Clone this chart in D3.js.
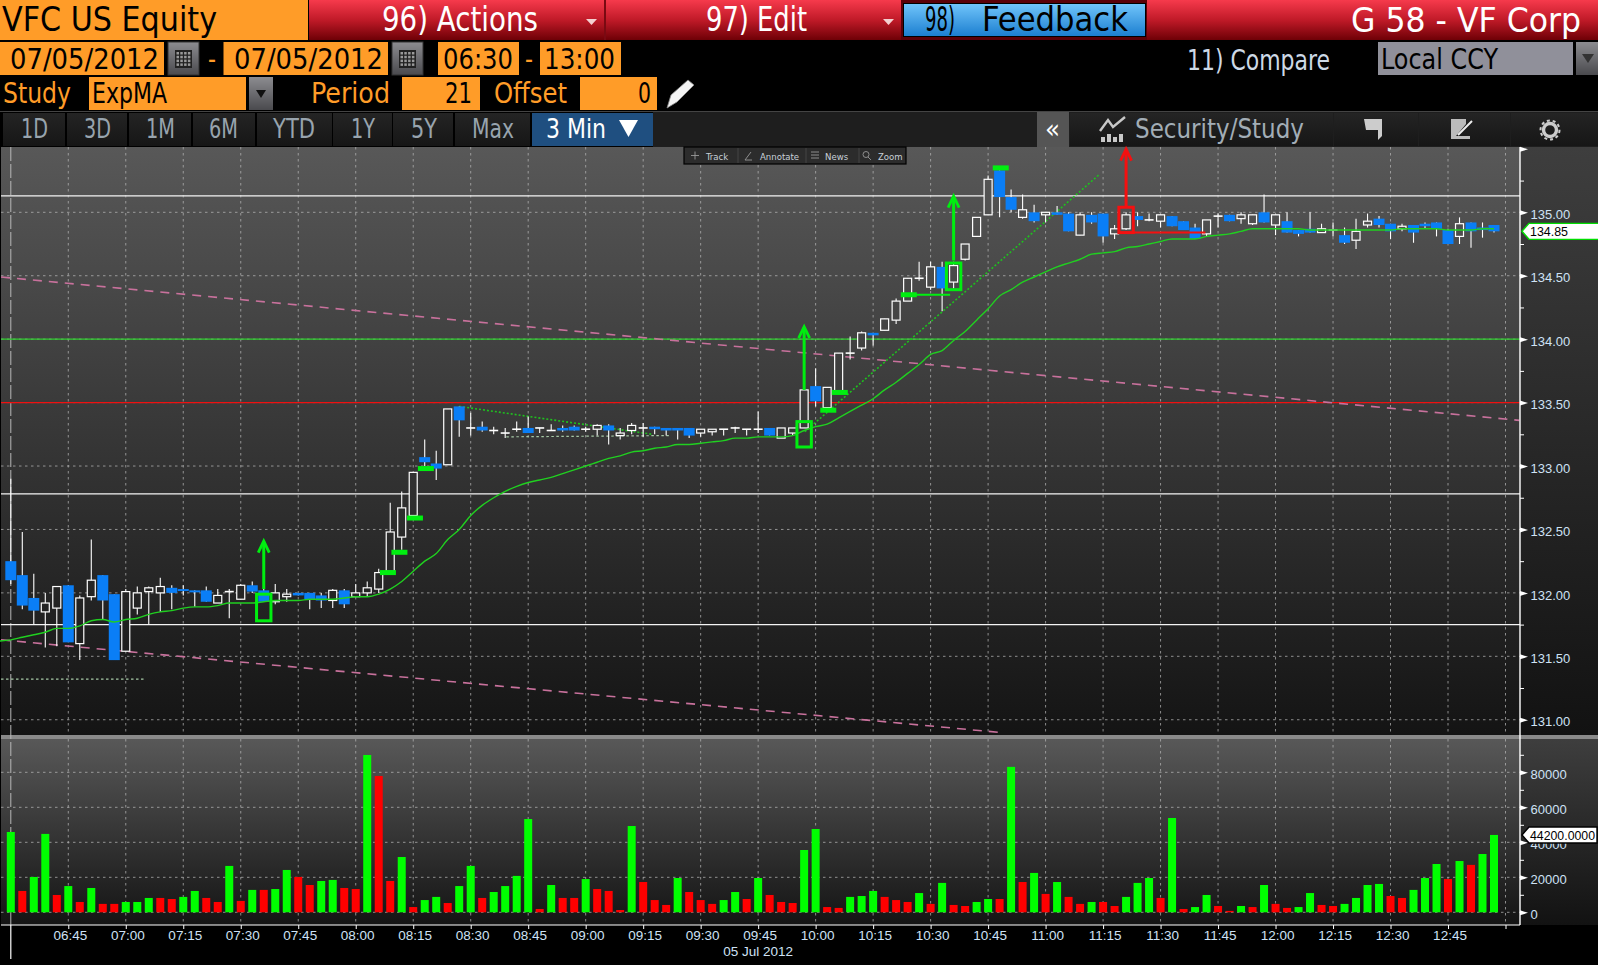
<!DOCTYPE html>
<html>
<head>
<meta charset="utf-8">
<title>VFC US Equity</title>
<script src="https://cdn.jsdelivr.net/npm/d3@7"></script>
<style>
	html, body { margin: 0; padding: 0; background: #000; overflow: hidden; }
	svg { display: block; }
	text { font-family: "DejaVu Sans Condensed", "DejaVu Sans", sans-serif; }
	.tick-label text, .small { font-family: "Liberation Sans", sans-serif; }
</style>
</head>
<body>
<div class="chart"></div>
<script>
// 3 minute bars, 06:30 to 12:57
var candleOpen = [
	132.25,132.14,131.96,131.85,131.88,132.06,131.60,131.97,132.14,131.99,
	131.54,131.88,132.01,132.00,132.04,132.03,132.02,132.02,131.92,132.01,
	131.95,132.06,132.02,131.93,131.97,132.00,132.00,131.98,131.94,132.02,
	131.97,132.00,132.03,132.17,132.44,132.61,133.07,133.02,133.01,133.47,
	133.30,133.31,133.28,133.26,133.29,133.30,133.30,133.28,133.30,133.31,
	133.29,133.29,133.32,133.24,133.28,133.30,133.31,133.30,133.30,133.30,
	133.26,133.27,133.29,133.30,133.29,133.29,133.30,133.22,133.26,133.30,
	133.63,133.46,133.59,133.89,133.93,134.05,134.07,134.15,134.30,134.48,
	134.41,134.57,134.45,134.63,134.81,134.98,135.33,135.12,134.96,135.00,
	134.98,135.00,134.99,134.82,134.98,134.99,134.83,134.87,134.97,134.94,
	134.93,134.97,134.93,134.88,134.83,134.97,134.98,134.95,134.91,135.00,
	134.90,134.93,134.86,134.87,134.84,134.86,134.82,134.78,134.90,134.95,
	134.91,134.87,134.90,134.91,134.92,134.86,134.81,134.92,134.88,134.90]

var candleHigh = [
	132.90,132.48,132.15,132.00,132.05,132.06,131.98,132.42,132.14,131.99,
	132.03,132.05,132.05,132.12,132.06,132.06,132.02,132.05,132.03,132.03,
	132.07,132.09,132.03,132.07,132.03,132.00,132.00,132.00,132.03,132.03,
	132.07,132.09,132.19,132.71,132.80,132.95,133.21,133.12,133.45,133.47,
	133.42,133.35,133.31,133.30,133.35,133.39,133.30,133.33,133.32,133.32,
	133.31,133.33,133.33,133.30,133.34,133.34,133.31,133.30,133.30,133.30,
	133.29,133.29,133.29,133.31,133.29,133.43,133.30,133.30,133.30,133.60,
	133.77,133.62,133.89,134.02,134.06,134.05,134.16,134.32,134.48,134.61,
	134.61,134.61,134.61,134.75,134.96,135.29,135.33,135.18,135.14,135.06,
	135.00,135.05,135.00,135.00,135.00,134.99,134.90,135.00,135.00,134.99,
	134.98,134.97,134.93,134.91,134.94,134.99,134.98,135.00,134.98,135.14,
	134.98,135.00,134.86,135.00,134.91,134.92,134.88,134.95,134.99,134.97,
	134.91,134.91,134.90,134.92,134.92,134.87,134.96,134.92,134.92,134.90]

var candleLow = [
	132.07,131.87,131.75,131.57,131.58,131.61,131.47,131.94,131.79,131.47,
	131.54,131.83,131.75,131.85,131.87,131.98,131.89,131.93,131.92,131.80,
	131.95,132.00,131.93,131.91,131.93,131.98,131.87,131.88,131.88,131.88,
	131.97,131.97,132.00,132.16,132.34,132.61,133.00,132.89,133.01,133.23,
	133.24,133.27,133.25,133.22,133.27,133.26,133.26,133.28,133.27,133.28,
	133.27,133.24,133.17,133.21,133.25,133.23,133.25,133.24,133.21,133.22,
	133.23,133.24,133.24,133.26,133.24,133.26,133.24,133.22,133.24,133.30,
	133.47,133.46,133.59,133.84,133.91,133.95,134.07,134.12,134.30,134.46,
	134.39,134.22,134.40,134.62,134.81,134.98,134.96,135.00,134.95,134.92,
	134.92,134.98,134.85,134.82,134.91,134.76,134.79,134.86,134.89,134.93,
	134.88,134.89,134.86,134.79,134.81,134.88,134.93,134.91,134.90,134.92,
	134.82,134.84,134.81,134.84,134.84,134.81,134.75,134.71,134.88,134.88,
	134.79,134.85,134.76,134.87,134.81,134.75,134.75,134.72,134.80,134.84]

var candleClose = [
	132.10,131.90,131.86,131.92,132.05,131.61,131.96,132.10,131.94,131.47,
	132.01,132.00,132.04,132.05,132.00,132.02,132.01,131.93,131.98,132.01,
	132.06,132.01,131.93,132.00,131.99,131.98,131.95,131.94,132.02,131.91,
	132.00,132.04,132.16,132.48,132.67,132.95,133.03,132.98,133.45,133.36,
	133.30,133.28,133.28,133.26,133.29,133.26,133.30,133.28,133.28,133.28,
	133.29,133.32,133.28,133.26,133.32,133.30,133.29,133.28,133.28,133.24,
	133.29,133.29,133.29,133.30,133.29,133.29,133.24,133.30,133.30,133.60,
	133.51,133.62,133.89,133.89,134.05,134.03,134.16,134.30,134.48,134.48,
	134.57,134.40,134.58,134.75,134.96,135.26,135.12,135.02,135.02,134.93,
	135.00,134.98,134.85,134.98,134.92,134.81,134.87,134.98,134.94,134.94,
	134.98,134.89,134.86,134.79,134.94,134.97,134.93,134.98,134.98,134.92,
	134.98,134.84,134.83,134.84,134.87,134.86,134.76,134.85,134.93,134.90,
	134.85,134.89,134.84,134.89,134.87,134.75,134.91,134.85,134.86,134.85]

// ExpMA 21, starts one bar left of the first candle
var emaValues = [
	131.62,
	131.63,131.65,131.67,131.69,131.72,131.72,131.74,131.78,131.79,131.77,
	131.79,131.80,131.83,131.85,131.86,131.88,131.89,131.89,131.90,131.92,
	131.92,131.92,131.93,131.94,131.94,131.94,131.95,131.95,131.95,131.96,
	131.97,131.97,131.99,132.03,132.09,132.17,132.25,132.31,132.42,132.50,
	132.61,132.69,132.75,132.80,132.84,132.87,132.89,132.91,132.94,132.97,
	133.00,133.03,133.06,133.08,133.11,133.12,133.14,133.15,133.17,133.17,
	133.18,133.19,133.20,133.22,133.22,133.23,133.23,133.23,133.24,133.28,
	133.31,133.33,133.38,133.43,133.48,133.53,133.60,133.66,133.73,133.80,
	133.88,133.91,133.99,134.06,134.15,134.24,134.34,134.39,134.45,134.49,
	134.53,134.57,134.60,134.63,134.67,134.68,134.69,134.72,134.73,134.75,
	134.77,134.79,134.79,134.79,134.81,134.82,134.83,134.85,134.87,134.87,
	134.87,134.87,134.87,134.86,134.86,134.86,134.86,134.86,134.86,134.86,
	134.86,134.87,134.87,134.87,134.87,134.86,134.86,134.86,134.87,134.87]

var volumeValues = [
	45900,12200,20200,44800,9900,15000,5900,13900,4800,4800,
	5900,5900,8200,8200,7600,8800,12200,8200,5900,26500,
	6500,12800,12800,13300,24200,20200,15600,17900,18500,13900,
	13300,89900,77900,17900,31600,3000,7000,8800,5300,15000,
	26500,8200,11600,15000,20800,53300,1900,15600,8200,8200,
	19000,13300,12200,1300,49300,17300,7000,4200,19600,11600,
	7000,4800,7000,11600,7600,19600,9900,5900,5300,35600,
	47600,3000,2500,8800,9300,12200,8800,7000,5900,11000,
	4800,16800,4200,3600,5900,7600,7600,83100,17300,22500,
	10500,17300,8800,4800,5900,5900,3600,8800,16800,19600,
	8200,53900,1900,3000,9900,3600,800,3600,3000,15600,
	4800,2500,3000,11000,4200,3600,4800,8200,15600,16200,
	9300,8200,12800,19600,27600,19000,29300,27100,33300,44200]

// 1 = up volume, 0 = down volume
var volumeUp = [
	1,0,1,1,0,1,0,1,0,0, 1,1,1,0,0,1,1,0,0,1,
	0,1,0,1,1,0,0,1,1,0, 0,1,0,0,1,0,1,1,0,1,
	1,0,1,1,1,1,0,1,0,0, 1,0,0,0,1,0,0,0,1,0,
	0,0,1,1,0,1,0,0,0,1, 1,0,0,1,1,1,0,0,0,1,
	0,1,0,0,1,1,0,1,0,1, 0,1,0,0,1,0,0,1,1,1,
	0,1,0,1,1,0,0,1,0,1, 0,0,1,1,0,0,1,1,1,1,
	0,0,1,1,1,0,1,0,1,1]

var priceTicks = d3.range(131, 135.75, 0.25)
var volumeTicks = d3.range(0, 100000, 10000)
var levelsWhite = [135.13, 132.78, 131.75]
var levelGreen = 134.00
var levelRed = 133.50
var lastPrice = 134.85
var lastVolume = 44200

// [bar, price, bar, price]
var dashedTrends = [[-0.85, 134.49, 131.2, 133.36], [-0.85, 131.63, 86.02, 130.90]]
var dottedTrends = [[39, 133.47, 55.8, 133.25], [69.06, 133.27, 94.7, 135.30]]
var paleTrends = [[43.1, 133.23, 57.4, 133.24], [-0.85, 131.32, 11.67, 131.32]]

var signalBars = [32.8, 33.8, 35.15, 36.1, 71.1, 72.1, 78.1, 86.1]
var signalPrices = [132.16, 132.32, 132.59, 132.98, 133.44, 133.58, 134.35, 135.35]

// [bar, bottom price, top price]
var buyBoxes = [[22, 131.78, 131.99], [69, 133.15, 133.35], [82, 134.39, 134.60]]
var sellBoxes = [[97, 134.84, 135.04]]
// [bar, from price, to price]
var buyArrows = [[22, 132.03, 132.42], [69, 133.60, 134.11], [82, 134.62, 135.14]]
var sellArrows = [[97, 135.04, 135.51]]

var width = 1598, height = 965
var plotLeft = 1, plotRight = 1520
var priceTop = 147, priceBottom = 735, volumeTop = 739, volumeBottom = 925

var svg = d3.select(".chart").append("svg")
	.attr("width", width)
	.attr("height", height)

var defs = svg.append("defs")

function gradient(id, stops) {
	var g = defs.append("linearGradient").attr("id", id)
		.attr("x1", 0).attr("y1", 0).attr("x2", 0).attr("y2", 1)
	stops.forEach(function(s, i) {
		g.append("stop").attr("offset", i / (stops.length - 1)).attr("stop-color", s)
	})
}
gradient("panel", ["#585858", "#141414"])
gradient("strip", ["#3e3e3e", "#121212"])
gradient("redbar", ["#f63a4c", "#c01a28", "#6e0006"])
gradient("bluebtn", ["#70c4fa", "#1c7fd0"])
gradient("graybtn", ["#8c8c90", "#4a4a4e"])
gradient("tab", ["#242424", "#161616"])

var dayStart = new Date(2012, 6, 5, 6, 30)
function barTime(i) { return new Date(dayStart.getTime() + i * 180000) }

var x = d3.scaleTime().domain([dayStart, new Date(2012, 6, 5, 13, 0)]).range([10.8, 1505.5])
var y = d3.scaleLinear().domain([131, 135]).range([719.74, 212.3])
var v = d3.scaleLinear().domain([0, 80000]).range([912.3, 772.3])

function barX(i) { return x(barTime(i)) }

function drawHeader() {
	var g = svg.append("g")

	function box(x0, y0, x1, y1, fill) {
		return g.append("rect").attr("x", x0).attr("y", y0)
			.attr("width", x1 - x0).attr("height", y1 - y0).attr("fill", fill)
	}
	function label(str, x0, x1, base, size, fill) {
		return g.append("text").text(str).attr("x", x0).attr("y", base)
			.attr("font-size", size).attr("fill", fill)
			.attr("textLength", x1 - x0).attr("lengthAdjust", "spacingAndGlyphs")
	}
	function triangle(pts, fill) {
		g.append("polygon").attr("points", pts).attr("fill", fill)
	}
	function calendar(x0) {
		box(x0, 42, x0 + 31, 75, "url(#graybtn)").attr("stroke", "#333")
		box(x0 + 7, 50, x0 + 24, 68, "#222")
		d3.range(4).forEach(function(r) {
			d3.range(4).forEach(function(c) {
				box(x0 + 8.5 + c * 3.8, 52 + r * 3.8, x0 + 11 + c * 3.8, 54.5 + r * 3.8, "#9a9a9a")
			})
		})
	}

	var orange = "#ff9c28"

	box(0, 0, 308, 40, orange)
	box(309, 0, 1598, 40, "url(#redbar)")
	box(604, 0, 606, 40, "#7a0a12")
	box(901, 0, 1147, 40, "#5a0008")
	box(903, 3, 1146, 37, "#000")
	box(904, 4, 1145, 36, "url(#bluebtn)")
	label("VFC US Equity", 2, 217, 31, 34, "#000")
	label("96) Actions", 382, 538, 31, 34, "#fff")
	label("97) Edit", 706, 807, 31, 34, "#fff")
	label("98)", 925, 955, 31, 34, "#000")
	label("Feedback", 982, 1128, 31, 34, "#000")
	label("G 58 - VF Corp", 1351, 1581, 32, 34, "#fff")
	triangle("586,19 597,19 591.5,25", "#f4d0d0")
	triangle("883,19 894,19 888.5,25", "#f4d0d0")

	box(0, 42, 164, 75, orange)
	label("07/05/2012", 10, 159, 69, 29, "#000")
	calendar(168)
	label("-", 208, 216, 69, 29, orange)
	box(223.5, 42, 388, 75, orange)
	label("07/05/2012", 234, 383, 69, 29, "#000")
	calendar(392)
	box(438, 42, 519, 75, orange)
	label("06:30", 443, 513, 69, 29, "#000")
	label("-", 525, 533, 69, 29, orange)
	box(540, 42, 621, 75, orange)
	label("13:00", 544, 615, 69, 29, "#000")
	label("11)  Compare", 1187, 1330, 70, 29, "#cdd9e6")
	box(1378, 42, 1573, 75, "#90909a")
	label("Local CCY", 1381, 1498, 69, 29, "#000")
	box(1576, 42, 1598, 75, "url(#graybtn)")
	triangle("1582,54 1594,54 1588,63", "#333")

	label("Study", 3, 71, 103, 29, orange)
	box(89, 77, 246, 110, orange)
	label("ExpMA", 92, 167, 103, 29, "#000")
	box(249, 77, 273, 110, "url(#graybtn)")
	triangle("256,90 266,90 261,98", "#111")
	label("Period", 311, 390, 103, 29, orange)
	box(402, 77, 480, 110, orange)
	label("21", 445, 472, 103, 29, "#000")
	label("Offset", 494, 567, 103, 29, orange)
	box(580, 77, 657, 110, orange)
	label("0", 638, 651, 103, 29, "#000")
	// pencil
	g.append("path").attr("d", "M667,108 L671,95 L688,80 L694,85 L677,102 Z")
		.attr("fill", "#f4f4f4").attr("stroke", "#888").attr("stroke-width", 0.8)

	box(0, 111, 1598, 112, "#444")
	box(653, 112, 1598, 147, "#1e1e1e")
	var tabs = [
		["1D", 3, 65, 21, 48], ["3D", 67, 127, 84, 111], ["1M", 129, 191, 146, 175],
		["6M", 193, 255, 209, 238], ["YTD", 257, 332, 273, 315], ["1Y", 333, 392, 351, 375],
		["5Y", 393, 453, 411, 437], ["Max", 455, 530, 472, 514]]
	tabs.forEach(function(t) {
		box(t[1], 113, t[2], 146, "url(#tab)")
		label(t[0], t[3], t[4], 138, 27, "#98a4ae")
	})
	box(532, 113, 653, 146, "#1f4f80")
	label("3 Min", 546, 606, 138, 27, "#fff")
	triangle("619,120 638,120 628.5,137", "#fff")

	box(1037, 112, 1069, 147, "#555")
	label("«", 1045, 1060, 138, 27, "#fff")
	box(1070, 113, 1333, 146, "url(#tab)")
	box(1334, 113, 1418, 146, "url(#tab)")
	box(1419, 113, 1510, 146, "url(#tab)")
	box(1511, 113, 1598, 146, "url(#tab)")
	label("Security/Study", 1135, 1304, 138, 27, "#a2adb6")
	// security study icon
	g.append("path").attr("d", "M1100,131 L1108,120 L1113,127 L1125,117")
		.attr("fill", "none").attr("stroke", "#c8c8c8").attr("stroke-width", 2.4)
	d3.range(4).forEach(function(k) {
		box(1101 + k * 6, 137 - k % 2 * 3, 1105 + k * 6, 142, "#c8c8c8")
	})
	// flag, edit and gear icons
	g.append("path").attr("d", "M1364,119 L1382,119 L1382,136 L1378,140 L1378,130 L1366,130 Z").attr("fill", "#ccc")
	g.append("path").attr("d", "M1451,119 L1466,119 L1466,124 L1456,136 L1470,136 L1470,139 L1451,139 Z").attr("fill", "#bbb")
	g.append("path").attr("d", "M1458,135 L1472,121").attr("stroke", "#eee").attr("stroke-width", 2)
	g.append("circle").attr("cx", 1550).attr("cy", 130).attr("r", 6.5)
		.attr("fill", "none").attr("stroke", "#ccc").attr("stroke-width", 3.4)
	g.append("circle").attr("cx", 1550).attr("cy", 130).attr("r", 9.5)
		.attr("fill", "none").attr("stroke", "#ccc").attr("stroke-width", 2).attr("stroke-dasharray", "3,2.9")
}

function drawPanels() {
	var g = svg.append("g")
	function panel(y0, y1) {
		g.append("rect").attr("x", plotLeft).attr("y", y0)
			.attr("width", plotRight - plotLeft).attr("height", y1 - y0).attr("fill", "url(#panel)")
		g.append("rect").attr("x", plotRight).attr("y", y0)
			.attr("width", width - plotRight).attr("height", y1 - y0).attr("fill", "url(#strip)")
	}
	panel(priceTop, priceBottom)
	panel(volumeTop, volumeBottom)
	g.append("rect").attr("x", plotLeft).attr("y", priceBottom)
		.attr("width", width - plotLeft).attr("height", volumeTop - priceBottom).attr("fill", "#8a8a8a")
}

function drawGrid() {
	var g = svg.append("g")
		.attr("stroke", "#b4b4b4").attr("stroke-opacity", 0.75)
		.attr("stroke-width", 1).attr("stroke-dasharray", "2.5,3.5")

	var times = d3.timeMinute.range(barTime(5), new Date(2012, 6, 5, 13, 1), 15)
	times.forEach(function(t) {
		g.append("line").attr("x1", x(t)).attr("x2", x(t)).attr("y1", priceTop).attr("y2", priceBottom)
		g.append("line").attr("x1", x(t)).attr("x2", x(t)).attr("y1", volumeTop).attr("y2", volumeBottom)
	})
	d3.range(131, 135.5, 0.5).forEach(function(p) {
		g.append("line").attr("x1", plotLeft).attr("x2", plotRight).attr("y1", y(p)).attr("y2", y(p))
	})
	d3.range(0, 100000, 20000).forEach(function(p) {
		g.append("line").attr("x1", plotLeft).attr("x2", plotRight).attr("y1", v(p)).attr("y2", v(p))
	})
	// session start
	svg.append("line").attr("x1", x(dayStart)).attr("x2", x(dayStart)).attr("y1", priceTop).attr("y2", volumeBottom)
		.attr("stroke", "#b8b8b8").attr("stroke-dasharray", "14,3")
}

function trendLine(g, t, stroke, dash, w) {
	g.append("line")
		.attr("x1", barX(t[0])).attr("y1", y(t[1]))
		.attr("x2", barX(t[2])).attr("y2", y(t[3]))
		.attr("stroke", stroke).attr("stroke-dasharray", dash).attr("stroke-width", w)
}

function drawLevels() {
	var g = svg.append("g")
	function level(p, color) {
		g.append("line").attr("x1", plotLeft).attr("x2", plotRight).attr("y1", y(p)).attr("y2", y(p))
			.attr("stroke", color).attr("stroke-width", 1.2)
	}
	levelsWhite.forEach(function(p) { level(p, "#f4f4f4") })
	level(levelGreen, "#2fd02f")
	level(levelRed, "#f01010")
	dashedTrends.forEach(function(t) { trendLine(g, t, "#c8719c", "9,7", 1.6) })
	dottedTrends.forEach(function(t) { trendLine(g, t, "#1fc01f", "2,2", 1.6) })
	paleTrends.forEach(function(t) { trendLine(g, t, "#a6c9a6", "2.5,2.5", 1.2) })
}

function drawCandles() {
	var g = svg.append("g")
	var bars = d3.range(candleOpen.length)

	// body fill follows the panel gradient in page space
	var fill = defs.append("linearGradient").attr("id", "bodyfill")
		.attr("gradientUnits", "userSpaceOnUse")
		.attr("x1", 0).attr("y1", priceTop).attr("x2", 0).attr("y2", priceBottom)
	fill.append("stop").attr("offset", 0).attr("stop-color", "#585858")
	fill.append("stop").attr("offset", 1).attr("stop-color", "#141414")

	g.selectAll(".wick").data(bars).enter().append("line")
		.attr("class", "wick")
		.attr("x1", function(i) { return barX(i) }).attr("x2", function(i) { return barX(i) })
		.attr("y1", function(i) { return y(candleHigh[i]) }).attr("y2", function(i) { return y(candleLow[i]) })
		.attr("stroke", "#fff").attr("stroke-width", 1.1)

	bars.forEach(function(i) {
		var top = y(Math.max(candleOpen[i], candleClose[i]))
		var bot = y(Math.min(candleOpen[i], candleClose[i]))
		if (candleClose[i] < candleOpen[i]) {
			g.append("rect").attr("x", barX(i) - 5.5).attr("y", top)
				.attr("width", 11).attr("height", Math.max(bot - top, 2)).attr("fill", "#0a7ef6")
		}
		else if (candleClose[i] === candleOpen[i]) {
			g.append("line").attr("x1", barX(i) - 4.5).attr("x2", barX(i) + 4.5)
				.attr("y1", top).attr("y2", top).attr("stroke", "#fff").attr("stroke-width", 1.6)
		}
		else {
			g.append("rect").attr("x", barX(i) - 4).attr("y", top)
				.attr("width", 8).attr("height", Math.max(bot - top, 2))
				.attr("fill", "url(#bodyfill)").attr("stroke", "#fff").attr("stroke-width", 1.2)
		}
	})
}

function drawEma() {
	var line = d3.line()
		.x(function(d, i) { return barX(i - 1) })
		.y(function(d) { return y(d) })
		.curve(d3.curveMonotoneX)
	svg.append("path").datum(emaValues)
		.attr("d", line).attr("fill", "none")
		.attr("stroke", "#20d020").attr("stroke-width", 1.4)
}

function drawSignals() {
	var g = svg.append("g")
	var buy = "#00ee10", sell = "#f51010"

	g.selectAll(".signal").data(signalBars).enter().append("rect")
		.attr("x", function(d) { return barX(d) - 8 })
		.attr("y", function(d, i) { return y(signalPrices[i]) - 2.5 })
		.attr("width", 16).attr("height", 5).attr("fill", buy)

	// holding lines out of the boxes
	g.append("line").attr("x1", barX(78.1)).attr("x2", barX(81.7))
		.attr("y1", y(134.35)).attr("y2", y(134.35)).attr("stroke", buy).attr("stroke-width", 1.8)
	g.append("line").attr("x1", barX(97.6)).attr("x2", barX(103.9))
		.attr("y1", y(134.84)).attr("y2", y(134.84)).attr("stroke", sell).attr("stroke-width", 2)

	function boxes(list, color) {
		list.forEach(function(b) {
			g.append("rect").attr("x", barX(b[0]) - 7.2).attr("y", y(b[2]))
				.attr("width", 14.4).attr("height", y(b[1]) - y(b[2]))
				.attr("fill", "none").attr("stroke", color).attr("stroke-width", 3)
		})
	}
	function arrows(list, color) {
		list.forEach(function(a) {
			var cx = barX(a[0]), tip = y(a[2])
			g.append("line").attr("x1", cx).attr("x2", cx).attr("y1", y(a[1])).attr("y2", tip + 2)
				.attr("stroke", color).attr("stroke-width", 3)
			g.append("path").attr("d", "M" + (cx - 5.5) + "," + (tip + 13) + " L" + cx + "," + (tip + 1.5) + " L" + (cx + 5.5) + "," + (tip + 13))
				.attr("fill", "none").attr("stroke", color).attr("stroke-width", 2.8)
		})
	}
	boxes(buyBoxes, buy)
	boxes(sellBoxes, sell)
	arrows(buyArrows, buy)
	arrows(sellArrows, sell)
}

function drawVolume() {
	svg.append("g").selectAll("rect").data(volumeValues).enter().append("rect")
		.attr("x", function(d, i) { return barX(i) - 4 })
		.attr("y", function(d) { return v(d) })
		.attr("width", 8)
		.attr("height", function(d) { return v(0) - v(d) })
		.attr("fill", function(d, i) { return volumeUp[i] ? "#00ff00" : "#ff0000" })
}

function flags(axisG, isMajor) {
	axisG.selectAll(".tick").filter(isMajor).append("polygon")
		.attr("points", "0,-2.5 8,0 0,2.5").attr("fill", "#fff")
}

function drawAxes() {
	// time axis
	var times = d3.timeMinute.range(barTime(5), new Date(2012, 6, 5, 13, 1), 15)
	var timeAxis = d3.axisBottom(x).tickValues(times).tickSize(4)
		.tickFormat(function(t) { return t.getHours() === 13 ? "" : d3.timeFormat("%H:%M")(t) })
	var gx = svg.append("g").attr("class", "tick-label")
		.attr("transform", "translate(0," + volumeBottom + ")").call(timeAxis)
	gx.select(".domain").remove()
	gx.selectAll("line").attr("stroke", "#fff")
	gx.selectAll("text").attr("fill", "#cfe2f5").attr("font-size", 13.5).attr("y", 15).attr("dy", 0).attr("dx", 1.5)

	svg.append("line").attr("x1", plotLeft).attr("x2", plotRight)
		.attr("y1", volumeBottom).attr("y2", volumeBottom).attr("stroke", "#fff").attr("stroke-width", 1.2)
	svg.append("line").attr("x1", x(dayStart)).attr("x2", x(dayStart))
		.attr("y1", volumeBottom).attr("y2", 959).attr("stroke", "#fff").attr("stroke-width", 1.2)
	svg.append("text").attr("class", "small").text("05 Jul 2012")
		.attr("x", x(barTime(65))).attr("y", 956).attr("text-anchor", "middle")
		.attr("font-size", 13.5).attr("fill", "#cfe2f5")
	svg.append("line").attr("x1", plotRight).attr("x2", plotRight)
		.attr("y1", priceTop).attr("y2", volumeBottom).attr("stroke", "#fff").attr("stroke-width", 1.4)

	// price axis
	var priceAxis = d3.axisRight(y).tickValues(priceTicks).tickSize(4)
		.tickFormat(function(p) { return (p * 2) % 1 === 0 && p < 135.5 ? d3.format(".2f")(p) : "" })
	var gy = svg.append("g").attr("class", "tick-label")
		.attr("transform", "translate(" + plotRight + ",0)").call(priceAxis)
	gy.select(".domain").remove()
	gy.selectAll("line").attr("stroke", "#fff")
	gy.selectAll("text").attr("x", 10.5).attr("dy", "0.48em").attr("fill", "#cfe2f5").attr("font-size", 13)
	flags(gy, function(p) { return (p * 2) % 1 === 0 })

	// volume axis
	var volumeAxis = d3.axisRight(v).tickValues(volumeTicks).tickSize(4)
		.tickFormat(function(p) { return p % 20000 === 0 ? p : "" })
	var gv = svg.append("g").attr("class", "tick-label")
		.attr("transform", "translate(" + plotRight + ",0)").call(volumeAxis)
	gv.select(".domain").remove()
	gv.selectAll("line").attr("stroke", "#fff")
	gv.selectAll("text").attr("x", 10.5).attr("dy", "0.48em").attr("fill", "#cfe2f5").attr("font-size", 13)
	flags(gv, function(p) { return p % 20000 === 0 })

	// last value tags
	function tag(cy, right, str, edge, textWidth) {
		var g = svg.append("g").attr("class", "tick-label")
		g.append("polygon")
			.attr("points", [[1522, cy], [1529, cy - 8], [right, cy - 8], [right, cy + 8], [1529, cy + 8]].join(" "))
			.attr("fill", "#fff").attr("stroke", edge).attr("stroke-width", 1.4)
		g.append("text").text(str).attr("x", 1530).attr("y", cy + 5)
			.attr("font-size", 13).attr("fill", "#000")
			.attr("textLength", textWidth).attr("lengthAdjust", "spacingAndGlyphs")
	}
	tag(y(lastPrice), 1600, d3.format(".2f")(lastPrice), "#00dd00", 38)
	tag(v(lastVolume), 1597, d3.format(".4f")(lastVolume), "#000", 65)
}

function drawChartTools() {
	var g = svg.append("g").attr("class", "small")
	g.append("rect").attr("x", 684).attr("y", 147).attr("width", 222).attr("height", 17)
		.attr("fill", "#2c2c2c").attr("stroke", "#000").attr("stroke-width", 1.2)
	var names = [["Track", 706], ["Annotate", 760], ["News", 825], ["Zoom", 878]]
	var dividers = [738, 806, 859]
	dividers.forEach(function(dx) {
		g.append("line").attr("x1", dx).attr("x2", dx).attr("y1", 148).attr("y2", 163).attr("stroke", "#444")
	})
	names.forEach(function(n) {
		g.append("text").text(n[0]).attr("x", n[1]).attr("y", 159.5)
			.attr("font-size", 9.5).attr("fill", "#c8d0d8")
	})
	var glyphs = g.append("g").attr("fill", "none").attr("stroke", "#999").attr("stroke-width", 0.9)
	glyphs.append("path").attr("d", "M691,155.5 h8 M695,151.5 v8")
	glyphs.append("path").attr("d", "M745,160 L751,152 M745,160 h7")
	glyphs.append("path").attr("d", "M811,152 h8 M811,155 h8 M811,158 h8")
	glyphs.append("circle").attr("cx", 866).attr("cy", 154.5).attr("r", 3)
	glyphs.append("path").attr("d", "M868,157 L871,160")
}

drawHeader()
drawPanels()
drawGrid()
drawLevels()
drawCandles()
drawEma()
drawSignals()
drawVolume()
drawAxes()
drawChartTools()
</script>
</body>
</html>
